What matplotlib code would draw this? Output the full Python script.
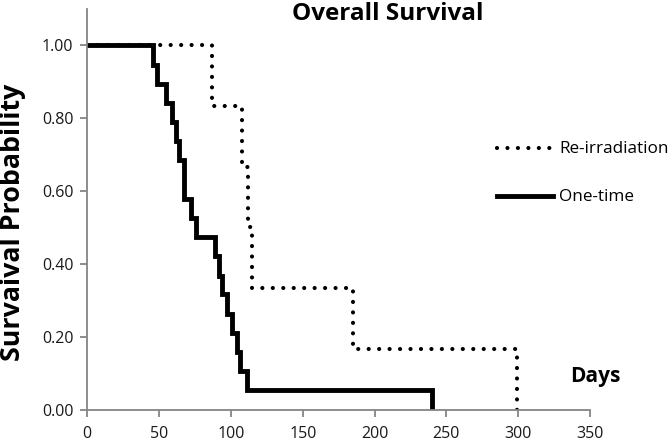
import matplotlib
matplotlib.use("Agg")
import matplotlib.pyplot as plt

# Data
onetime_days = [0, 46, 48.5, 55, 59, 62, 63.5, 67, 72, 76, 89, 91.5, 93.5, 97.5, 101, 104.5, 106.5, 111.5, 240]
onetime_surv = [1.0, 0.947, 0.895, 0.842, 0.789, 0.737, 0.684, 0.579, 0.526, 0.474, 0.421,
                0.368, 0.316, 0.263, 0.211, 0.158, 0.105, 0.053, 0.0]
reirr_days = [0, 87, 108, 112, 115, 185, 299]
reirr_surv = [1.0, 0.833, 0.667, 0.5, 0.333, 0.167, 0.0]

x_ticks = [0, 50, 100, 150, 200, 250, 300, 350]
y_ticks = [0.0, 0.2, 0.4, 0.6, 0.8, 1.0]
y_ticklabels = ["0.00", "0.20", "0.40", "0.60", "0.80", "1.00"]

plt.rcParams['font.family'] = ['Open Sans', 'DejaVu Sans']

DOT = (0, (0.01, 2.5))

fig = plt.figure(figsize=(6.69, 4.44), dpi=100)
ax = fig.add_axes([0.1305, 0.0777, 0.7514, 0.902])

ax.step(reirr_days, reirr_surv, where='post', color='black', lw=3.0,
        linestyle=DOT, dash_capstyle='round')
ax.step(onetime_days, onetime_surv, where='post', color='black', lw=3.5,
        solid_joinstyle='miter')

ax.set_xlim(0, 350)
ax.set_ylim(0, 1.1)
ax.set_xticks(x_ticks)
ax.set_yticks(y_ticks)
ax.set_yticklabels(y_ticklabels)

for s in ['top', 'right']:
    ax.spines[s].set_visible(False)
for s in ['left', 'bottom']:
    ax.spines[s].set_color('#858585')
    ax.spines[s].set_linewidth(1.3)
ax.tick_params(axis='both', direction='out', length=5, width=1.3, color='#858585',
               labelsize=11.5, labelcolor='#1a1a1a')
ax.tick_params(axis='x', pad=7)
ax.tick_params(axis='y', pad=5)

fig.text(388 / 669, 1 - 2 / 444, "Overall Survival", ha='center', va='top',
         fontsize=17.5, fontweight='bold')
fig.text(13 / 669, 1 - 222 / 444, "Survaival Probability", ha='center', va='center',
         rotation=90, fontsize=19.3, fontweight='bold')
fig.text(595 / 669, 1 - 376 / 444, "Days", ha='center', va='center',
         fontsize=15, fontweight='bold')

# Legend drawn manually (in figure coordinates)
fig.add_artist(plt.Line2D([497 / 669, 552 / 669], [1 - 148 / 444, 1 - 148 / 444],
                          color='black', lw=3.0, linestyle=DOT, dash_capstyle='round'))
fig.add_artist(plt.Line2D([497 / 669, 553 / 669], [1 - 196.5 / 444, 1 - 196.5 / 444],
                          color='black', lw=3.5))
fig.text(559 / 669, 1 - 149 / 444, "Re-irradiation", ha='left', va='center', fontsize=12.3)
fig.text(559 / 669, 1 - 197 / 444, "One-time", ha='left', va='center', fontsize=12.3)

fig.savefig("out.png", dpi=100)
